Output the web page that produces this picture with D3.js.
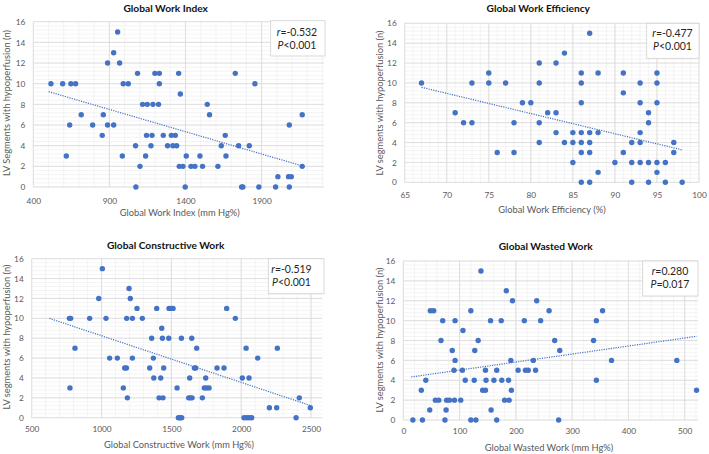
<!DOCTYPE html>
<html><head><meta charset="utf-8">
<script src="https://cdn.jsdelivr.net/npm/d3@7"></script>
<style>
html,body{margin:0;padding:0;background:#fff;}
svg{display:block;font-family:Lato,"Open Sans",sans-serif;}
</style></head><body>
<svg id="c" width="709" height="454"></svg>
<script>
// ---------- DATA ----------
const yTicks = [0,2,4,6,8,10,12,14,16];
const gwiTicks = [400,900,1400,1900];
const gweTicks = [65,70,75,80,85,90,95,100];
const gcwTicks = [500,1000,1500,2000,2500];
const gwwTicks = [0,100,200,300,400,500];

const titles = ["Global Work Index","Global Work Efficiency","Global Constructive Work","Global Wasted Work"];
const xTitles = ["Global Work Index (mm Hg%)","Global Work Efficiency (%)","Global Constructive Work (mm Hg%)","Global Wasted Work (mm Hg%)"];
const yTitles = ["LV Segments with hypoperfusion (n)","LV segments with hypoperfusion (n)","LV segments with hypoperfusion (n)","LV segments with hypoperfusion (n)"];
const rTexts = ["=-0.532","=-0.477","=-0.519","=0.280"];
const pTexts = ["<0.001","<0.001","<0.001","=0.017"];

const gwiX = [516,593,647,678,617,639,715,790,853,860,888,888,928,928,954,967,985,991,1024,1072,1074,1085,1101,1118,1138,1144,1149,1173,1180,1186,1199,1223,1228,1228,1254,1282,1307,1317,1333,1342,1355,1359,1366,1383,1398,1405,1436,1462,1495,1512,1543,1558,1613,1635,1661,1666,1727,1749,1769,1777,1819,1856,1882,1992,2007,2077,2082,2082,2095,2167,2167];
const gwiY = [10,10,10,10,3,6,7,6,5,7,12,6,13,6,15,12,3,10,10,4,0,11,2,8,3,5,8,4,5,8,11,8,11,10,5,4,5,4,5,4,11,2,9,2,0,3,2,2,3,2,8,7,2,4,5,3,11,4,0,0,4,10,0,0,1,1,0,6,1,7,2];

const gweX = [67,71,72,73,73,75,75,76,77,78,78,79,80,81,81,81,81,82,83,83,83,84,84,85,85,85,86,86,86,86,86,86,86,87,87,87,87,87,88,88,88,90,91,91,91,92,92,92,93,93,93,93,93,94,94,94,94,95,95,95,95,95,96,96,97,97,98];
const gweY = [10,7,6,6,10,11,10,3,10,6,3,8,8,12,10,6,4,7,12,7,5,13,4,5,4,2,11,10,8,5,4,3,0,15,5,4,3,0,11,5,1,2,11,9,3,4,2,0,10,8,5,4,2,7,6,2,0,11,10,8,2,1,2,0,4,3,0];

const gcwX = [770,779,774,810,915,980,1006,1032,1058,1113,1156,1166,1178,1180,1185,1197,1206,1221,1221,1254,1292,1345,1359,1371,1374,1395,1412,1424,1431,1436,1440,1445,1481,1483,1498,1512,1541,1550,1562,1574,1572,1624,1631,1636,1646,1648,1665,1674,1681,1722,1736,1746,1753,1770,1827,1877,1896,1958,2008,2020,2035,2039,2056,2058,2075,2118,2202,2254,2259,2393,2416,2495];
const gcwY = [10,10,3,7,10,12,15,10,6,6,3,5,5,10,2,13,12,10,6,11,10,5,8,6,4,11,2,4,9,8,2,5,8,11,11,11,3,0,0,0,8,2,4,2,8,2,5,5,7,2,3,4,3,3,5,5,11,10,4,0,7,0,4,0,0,6,1,1,7,0,2,1];

const gwwX = [17,32,34,40,47,48,54,57,63,67,70,74,76,77,82,91,87,90,92,92,102,106,105,110,120,120,127,126,129,133,138,141,146,146,147,155,156,161,166,166,174,175,180,183,187,188,191,192,194,204,215,217,222,231,235,237,244,259,269,276,278,338,343,343,354,370,486,521];
const gwwY = [0,3,0,4,1,11,11,2,2,8,10,0,1,2,2,2,7,5,10,6,2,9,5,4,11,0,7,4,0,8,15,3,3,5,4,10,1,4,5,0,10,4,2,13,4,2,6,3,12,5,10,5,5,6,5,12,10,11,8,0,7,8,4,10,11,6,6,3];

// trendline end points
const gwiTrendX = [501,2163], gwiTrendY = [9.23,2.06];
const gweTrendX = [67,98], gweTrendY = [9.56,3.26];
const gcwTrendX = [626,2493], gcwTrendY = [10.0,1.24];
const gwwTrendX = [14,521], gwwTrendY = [4.33,8.42];

// ---------- LAYOUT ----------
const layout = [
  {dom:[400,2310], xr:[33.3,324], yr:[187,21.7], minor:100, xPad:12, yPad:8,
   title:[165.7,12], xt:[179.7,216], yt:[7,103], box:[270.7,20.7,54.3,35.3], bx:297, by:[35.5,48.5]},
  {dom:[65,100], xr:[404.7,699], yr:[182.3,23.3], minor:1, xPad:10, yPad:8,
   title:[538.3,12], xt:[552,213], yt:[380,103], box:[646.7,23.3,52.3,35], bx:672.5, by:[37,50]},
  {dom:[500,2580], xr:[31.7,322.2], yr:[417.7,258.7], minor:100, xPad:9, yPad:8,
   title:[165.7,249], xt:[179,448], yt:[7,337], box:[268.3,258.7,55.7,35], bx:291.5, by:[273,286]},
  {dom:[0,523.6], xr:[403.3,698], yr:[420,261], minor:20, xPad:8.5, yPad:8,
   title:[545.7,250], xt:[549,451], yt:[380,340], box:[642.7,261,55.3,35], bx:670, by:[275,288]}
];

const series = [
  [gwiX,gwiY,gwiTicks,gwiTrendX,gwiTrendY],
  [gweX,gweY,gweTicks,gweTrendX,gweTrendY],
  [gcwX,gcwY,gcwTicks,gcwTrendX,gcwTrendY],
  [gwwX,gwwY,gwwTicks,gwwTrendX,gwwTrendY]
];

const svg = d3.select("#c");
const BLUE = "#4472C4";

series.forEach((s,i) => {
  const [xs,ys,ticks,tx,ty] = s;
  const L = layout[i];
  const x = d3.scaleLinear().domain(L.dom).range(L.xr);
  const y = d3.scaleLinear().domain([0,16]).range(L.yr);
  const g = svg.append("g");

  // minor grid
  const xm = d3.range(L.dom[0], L.dom[1]+1e-6, L.minor);
  const ym = d3.range(0, 16+1e-6, 0.4);
  g.selectAll(".vm").data(xm).join("line")
    .attr("x1",d=>x(d)).attr("x2",d=>x(d)).attr("y1",y(0)).attr("y2",y(16))
    .attr("stroke","#ededed").attr("stroke-width",0.6);
  g.selectAll(".hm").data(ym).join("line")
    .attr("y1",d=>y(d)).attr("y2",d=>y(d)).attr("x1",L.xr[0]).attr("x2",L.xr[1])
    .attr("stroke","#ededed").attr("stroke-width",0.6);
  // major grid
  g.selectAll(".vM").data(ticks).join("line")
    .attr("x1",d=>x(d)).attr("x2",d=>x(d)).attr("y1",y(0)).attr("y2",y(16))
    .attr("stroke","#d9d9d9").attr("stroke-width",0.8);
  g.selectAll(".hM").data(yTicks).join("line")
    .attr("y1",d=>y(d)).attr("y2",d=>y(d)).attr("x1",L.xr[0]).attr("x2",L.xr[1])
    .attr("stroke","#d9d9d9").attr("stroke-width",0.8);

  // axes (labels only)
  const ax = g.append("g").attr("transform",`translate(0,${y(0)})`)
    .call(d3.axisBottom(x).tickValues(ticks).tickSize(0).tickPadding(L.xPad - 0.4).tickFormat(d3.format("d")));
  const ay = g.append("g").attr("transform",`translate(${L.xr[0]},0)`)
    .call(d3.axisLeft(y).tickValues(yTicks).tickSize(0).tickPadding(L.yPad));
  [ax,ay].forEach(a=>{
    a.select(".domain").remove();
    a.selectAll("text").attr("fill","#595959").style("font-size","8.3px").style("font-family","Lato, sans-serif");
  });

  // points
  g.selectAll(".pt").data(xs.map((v,k)=>[v,ys[k]])).join("circle")
    .attr("cx",d=>x(d[0])).attr("cy",d=>y(d[1])).attr("r",2.7).attr("fill",BLUE);

  // trendline
  g.append("line")
    .attr("x1",x(tx[0])).attr("y1",y(ty[0])).attr("x2",x(tx[1])).attr("y2",y(ty[1]))
    .attr("stroke",BLUE).attr("stroke-width",1.2).attr("stroke-dasharray","1.2 1.2");

  // titles
  g.append("text").attr("x",L.title[0]).attr("y",L.title[1]).attr("text-anchor","middle")
    .style("font-size","10.2px").style("font-weight","bold").attr("fill","#111").text(titles[i]);
  g.append("text").attr("x",L.xt[0]).attr("y",L.xt[1]).attr("text-anchor","middle")
    .style("font-size","9.3px").attr("fill","#595959").text(xTitles[i]);
  g.append("text").attr("transform",`translate(${L.yt[0]},${L.yt[1]}) rotate(-90)`)
    .attr("text-anchor","middle").attr("dy","0.35em")
    .style("font-size","9.3px").attr("fill","#595959").text(yTitles[i]);

  // stat box
  g.append("rect").attr("x",L.box[0]).attr("y",L.box[1]).attr("width",L.box[2]).attr("height",L.box[3])
    .attr("fill","#fff").attr("stroke","#d0d0d0").attr("stroke-width",0.8);
  const t1 = g.append("text").attr("x",L.bx).attr("y",L.by[0]).attr("text-anchor","middle")
    .style("font-size","10.5px").attr("fill","#262626");
  t1.append("tspan").style("font-style","italic").text("r");
  t1.append("tspan").text(rTexts[i]);
  const t2 = g.append("text").attr("x",L.bx).attr("y",L.by[1]).attr("text-anchor","middle")
    .style("font-size","10.5px").attr("fill","#262626");
  t2.append("tspan").style("font-style","italic").text("P");
  t2.append("tspan").text(pTexts[i]);
});
</script>
</body></html>
